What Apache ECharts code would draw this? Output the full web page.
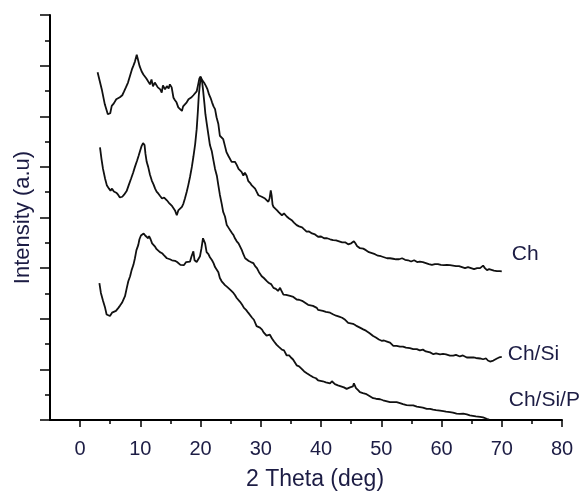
<!DOCTYPE html>
<html>
<head>
<meta charset="utf-8">
<script src="https://cdn.jsdelivr.net/npm/echarts@6/dist/echarts.min.js"></script>
<style>
html,body{margin:0;padding:0;background:#fff;}
#chart{width:584px;height:496px;}
</style>
</head>
<body>
<div id="chart"></div>
<script>
const seriesNames = ['Ch', 'Ch/Si', 'Ch/Si/P'];
const xMajorTicks = [0, 10, 20, 30, 40, 50, 60, 70, 80];
const xMinorTicks = [5, 15, 25, 35, 45, 55, 65, 75];

const chData = [
[2.9,1374],[3.6,1306],[4.1,1247],[4.6,1208],[5.0,1212],[5.25,1241],[5.6,1251],[6.0,1267],[6.3,1263],[6.6,1275],
[7.0,1283],[7.3,1298],[7.6,1314],[7.95,1333],[8.3,1361],[8.6,1385],[8.85,1400],[9.1,1416],[9.4,1443],[9.6,1424],
[9.85,1400],[10.2,1378],[10.5,1365],[10.8,1369],[11.0,1349],[11.3,1345],[11.6,1326],[11.85,1345],[12.1,1318],[12.4,1333],
[12.7,1339],[12.9,1314],[13.3,1306],[13.55,1293],[13.75,1322],[14.1,1306],[14.4,1319],[14.7,1310],[14.9,1326],[15.2,1314],
[15.5,1273],[15.75,1263],[16.0,1255],[16.3,1235],[16.6,1228],[16.9,1221],[17.1,1239],[17.4,1243],[17.7,1255],[18.0,1267],
[18.25,1267],[18.5,1275],[18.8,1283],[19.1,1279],[19.35,1298],[19.6,1326],[19.8,1349],[20.0,1357],[20.2,1345],[20.45,1349],
[20.65,1330],[20.9,1319],[21.15,1306],[21.4,1286],[21.65,1273],[21.9,1255],[22.15,1239],[22.4,1228],[22.65,1196],[22.95,1169],
[23.2,1123],[23.5,1118],[23.75,1110],[24.05,1082],[24.3,1058],[24.6,1044],[24.9,1039],[25.15,1020],[25.45,1016],[25.7,1020],
[26.0,1008],[26.3,992],[26.55,992],[26.8,980],[27.1,966],[27.35,977],[27.65,965],[27.9,945],[28.2,937],[28.5,927],
[28.75,922],[29.05,914],[29.3,902],[29.6,888],[29.9,890],[30.15,882],[30.4,879],[30.7,875],[31.0,871],[31.25,862],
[31.45,875],[31.65,907],[31.8,886],[31.95,851],[32.1,842],[32.35,835],[32.7,828],[33.0,820],[33.5,809],[33.85,816],
[34.3,804],[34.7,796],[35.2,788],[35.5,780],[35.95,770],[36.35,765],[36.85,761],[37.2,753],[37.6,744],[38.0,745],
[38.5,737],[39.0,733],[39.5,724],[40.0,725],[40.5,718],[41.0,718],[41.5,714],[42.0,711],[42.5,710],[43.0,706],
[43.5,702],[44.0,702],[44.5,694],[45.0,698],[45.45,706],[45.7,698],[46.0,686],[46.45,679],[47.0,677],[47.45,671],
[47.95,663],[48.45,659],[48.95,655],[49.45,649],[49.95,647],[50.45,643],[50.95,639],[51.45,639],[51.95,637],[52.45,635],
[52.95,635],[53.45,639],[53.95,633],[54.45,631],[54.95,626],[55.45,631],[55.95,624],[56.4,626],[56.9,624],[57.4,620],
[57.9,616],[58.4,613],[58.9,616],[59.4,616],[59.9,613],[60.4,612],[60.9,613],[61.4,612],[61.9,610],[62.4,608],
[62.9,608],[63.4,604],[63.9,600],[64.4,604],[64.9,600],[65.4,596],[65.9,600],[66.4,600],[66.7,604],[66.9,610],
[67.2,600],[67.55,592],[67.9,596],[68.2,592],[68.7,590],[69.2,588],[69.7,588],[70.0,587]
];

const chSiData = [
[3.3,1077],[3.55,1031],[3.8,992],[4.15,953],[4.45,926],[4.8,914],[5.05,906],[5.3,914],[5.6,903],[6.0,898],
[6.3,890],[6.6,879],[7.0,882],[7.3,890],[7.75,906],[8.1,930],[8.45,953],[8.8,977],[9.1,1000],[9.45,1024],
[9.7,1043],[9.95,1063],[10.2,1082],[10.45,1094],[10.7,1086],[10.85,1051],[11.05,1020],[11.3,1000],[11.6,969],[11.9,946],
[12.2,930],[12.45,914],[12.7,902],[13.0,894],[13.25,886],[13.6,875],[13.95,879],[14.4,868],[14.7,859],[14.95,863],
[15.2,847],[15.5,842],[15.75,828],[16.05,809],[16.3,828],[16.6,832],[16.9,842],[17.15,855],[17.4,875],[17.7,902],
[17.95,927],[18.25,961],[18.55,1000],[18.8,1039],[19.1,1090],[19.35,1149],[19.55,1220],[19.7,1282],[19.9,1330],[20.05,1353],
[20.25,1337],[20.4,1306],[20.65,1247],[20.8,1208],[21.0,1175],[21.3,1126],[21.55,1086],[21.85,1063],[22.15,1024],[22.4,992],
[22.7,965],[22.95,927],[23.2,890],[23.5,855],[23.75,822],[24.05,804],[24.35,770],[24.6,761],[24.9,757],[25.15,741],
[25.45,731],[25.7,718],[26.0,706],[26.3,698],[26.55,691],[26.85,671],[27.1,655],[27.4,639],[27.7,635],[28.0,628],
[28.35,624],[28.75,620],[29.05,608],[29.35,600],[29.7,584],[30.15,568],[30.5,561],[31.0,549],[31.35,541],[31.7,537],
[32.1,522],[32.5,518],[32.85,510],[33.2,522],[33.35,514],[33.75,495],[34.2,494],[34.5,498],[34.85,490],[35.4,486],
[35.95,476],[36.35,475],[36.85,471],[37.35,463],[37.85,455],[38.15,450],[38.65,451],[39.3,443],[39.5,435],[39.8,437],
[40.3,431],[40.8,427],[41.5,424],[42.05,417],[42.5,412],[43.0,408],[43.5,404],[44.0,396],[44.5,384],[44.8,384],
[45.3,380],[45.8,373],[46.45,365],[47.0,358],[47.45,353],[47.95,345],[48.65,332],[49.1,326],[49.6,318],[50.05,313],
[50.45,314],[50.95,310],[51.45,306],[52.0,293],[52.55,293],[53.1,290],[53.6,290],[54.1,286],[54.75,284],[55.3,280],
[55.9,280],[56.4,275],[56.9,278],[57.4,271],[58.1,267],[58.65,260],[59.1,263],[59.75,259],[60.25,261],[60.75,259],
[61.4,254],[61.95,254],[62.4,257],[63.05,251],[63.55,255],[64.2,247],[64.7,247],[65.3,247],[65.7,245],[66.4,243],
[66.9,240],[67.4,243],[67.7,235],[68.05,231],[68.35,227],[68.6,235],[68.9,239],[69.2,243],[69.55,247],[70.0,249]
];

const chSiPData = [
[3.2,541],[3.45,502],[3.8,471],[4.15,443],[4.4,417],[4.65,411],[4.95,411],[5.3,424],[5.6,431],[5.95,431],
[6.35,443],[6.6,451],[6.95,463],[7.45,489],[7.75,522],[8.0,548],[8.3,568],[8.55,592],[8.85,613],[9.1,639],
[9.35,671],[9.65,691],[9.85,714],[10.1,729],[10.35,726],[10.55,737],[10.8,729],[11.05,731],[11.3,718],[11.45,726],
[11.7,714],[11.95,698],[12.2,702],[12.4,686],[12.7,675],[13.0,671],[13.25,663],[13.6,659],[13.9,651],[14.4,639],
[14.7,639],[14.9,635],[15.25,631],[15.5,626],[15.75,629],[16.1,624],[16.4,618],[16.65,613],[16.9,620],[17.25,612],
[17.6,624],[17.9,628],[18.25,626],[18.5,647],[18.8,666],[19.0,631],[19.35,624],[19.65,631],[19.9,647],[20.15,679],
[20.4,718],[20.5,724],[20.75,698],[21.0,663],[21.3,655],[21.55,643],[21.9,631],[22.15,620],[22.4,604],[22.7,608],
[22.95,584],[23.2,561],[23.5,548],[23.75,545],[24.05,533],[24.4,526],[24.9,515],[25.2,510],[25.45,502],[25.7,494],
[26.0,482],[26.3,475],[26.55,467],[26.9,455],[27.2,443],[27.55,435],[27.9,424],[28.2,417],[28.55,404],[28.85,396],
[29.3,371],[29.6,369],[29.85,365],[30.2,357],[30.5,345],[30.95,333],[31.25,337],[31.5,337],[31.85,322],[32.2,310],
[32.6,298],[32.95,290],[33.2,286],[33.5,278],[33.85,275],[34.3,255],[34.7,255],[35.0,247],[35.35,239],[35.95,216],
[36.35,212],[36.7,204],[37.2,192],[37.7,184],[38.15,177],[38.7,169],[39.15,165],[39.5,157],[39.8,156],[40.3,153],
[40.8,149],[41.5,145],[41.8,153],[42.3,142],[42.8,137],[43.3,133],[43.8,129],[44.25,123],[44.8,129],[45.3,133],
[45.45,145],[45.8,126],[46.15,118],[46.45,110],[46.95,106],[47.55,102],[48.1,94],[48.65,86],[49.1,84],[49.8,82],
[50.3,78],[50.8,75],[51.45,71],[51.95,71],[52.55,71],[53.1,67],[53.6,63],[54.2,59],[54.75,58],[55.3,58],
[55.9,53],[56.4,51],[56.9,49],[57.55,44],[58.1,44],[58.6,41],[59.1,39],[59.75,37],[60.3,35],[60.75,33],
[61.4,31],[61.9,29],[62.5,25],[63.05,24],[63.6,25],[64.2,22],[64.7,18],[65.2,16],[65.7,14],[66.4,12],
[66.9,10],[67.5,5],[67.9,2],[68.0,1]
];

const textColor = '#1c1c44';
const fontFam = 'Liberation Sans, Arial, sans-serif';
const chart = echarts.init(document.getElementById('chart'), null, {renderer: 'canvas'});

function lineSeries(name, data, offset) {
  return {
    name: name,
    type: 'line',
    xAxisIndex: 0,
    data: data,
    showSymbol: false,
    symbol: 'none',
    smooth: false,
    lineStyle: {color: '#111', width: 1.8},
    emphasis: {disabled: true},
    endLabel: {
      show: true,
      formatter: name,
      distance: 0,
      offset: offset,
      color: textColor,
      fontSize: 21,
      fontFamily: fontFam
    }
  };
}

chart.setOption({
  animation: false,
  backgroundColor: '#fff',
  grid: {left: 50, right: 22, top: 15, bottom: 73, containLabel: false},
  xAxis: [{
    type: 'value',
    min: -5,
    max: 80,
    name: '2 Theta (deg)',
    nameLocation: 'middle',
    nameGap: 48,
    nameTextStyle: {color: textColor, fontSize: 23, fontFamily: fontFam, padding: [0, 0, 0, 18]},
    axisLine: {show: true, onZero: false, lineStyle: {color: '#000', width: 2}},
    axisTick: {show: true, customValues: xMajorTicks, length: 7, lineStyle: {color: '#000', width: 1.5}},
    axisLabel: {show: true, customValues: xMajorTicks, margin: 19, color: textColor, fontSize: 20, fontFamily: fontFam},
    splitLine: {show: false}
  }, {
    type: 'value',
    position: 'bottom',
    min: -5,
    max: 80,
    axisLine: {show: false, onZero: false},
    axisTick: {show: true, customValues: xMinorTicks, length: 4, lineStyle: {color: '#000', width: 1.5}},
    axisLabel: {show: false},
    splitLine: {show: false}
  }],
  yAxis: {
    type: 'value',
    min: 0,
    max: 1600,
    interval: 200,
    name: 'Intensity (a.u)',
    nameLocation: 'middle',
    nameGap: 16,
    nameTextStyle: {color: textColor, fontSize: 22, fontFamily: fontFam},
    axisLine: {show: true, onZero: false, lineStyle: {color: '#000', width: 2}},
    axisTick: {show: true, length: 10, lineStyle: {color: '#000', width: 1.5}},
    minorTick: {show: true, splitNumber: 2, length: 5, lineStyle: {color: '#000', width: 1.5}},
    axisLabel: {show: false},
    splitLine: {show: false},
    minorSplitLine: {show: false}
  },
  series: [
    lineSeries(seriesNames[0], chData, [10, -17]),
    lineSeries(seriesNames[1], chSiData, [6, -3]),
    lineSeries(seriesNames[2], chSiPData, [19, -20])
  ]
});
</script>
</body>
</html>
